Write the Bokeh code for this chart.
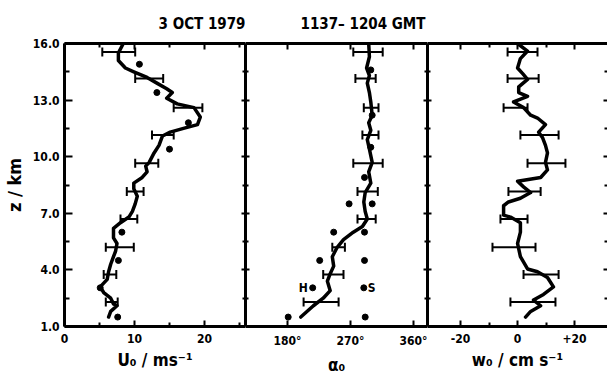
from bokeh.plotting import figure
from bokeh.models import (Range1d, LinearAxis, FixedTicker, Whisker, TeeHead,
                          ColumnDataSource, PrintfTickFormatter)
from bokeh.layouts import row
from bokeh.embed import file_html
from bokeh.resources import INLINE
from bokeh.core.properties import value

FONT = "'DejaVu Sans Condensed', 'DejaVu Sans', sans-serif"

# ---------------- data ----------------
title_date = "3 OCT 1979"
title_time = "1137\u2013 1204 GMT"

z_ticks = [1.0, 4.0, 7.0, 10.0, 13.0, 16.0]
z_minor = [2.5, 5.5, 8.5, 11.5, 14.5]

# Panel 1: horizontal wind speed U0 (m/s)
z_u = [16.0, 15.5, 15.1, 14.7, 14.5, 14.2, 13.9, 13.6, 13.4, 13.1, 12.8, 12.6, 12.1, 11.7, 11.5,
       11.3, 11.1, 10.6, 10.2, 9.7, 9.5, 9.2, 8.9, 8.6, 8.3, 7.9, 7.5, 7.1, 6.8, 6.5,
       6.2, 5.7, 5.4, 5.0, 4.7, 4.3, 3.9, 3.5, 3.1, 2.8, 2.5, 2.2, 2.1, 1.8, 1.5]
u = [8.4, 7.7, 7.7, 8.7, 9.9, 11.8, 13.2, 14.6, 15.4, 14.6, 16.1, 18.5, 19.4, 19.0, 17.0,
     15.1, 14.0, 13.5, 12.8, 12.1, 11.6, 11.8, 11.1, 9.9, 9.9, 10.4, 10.1, 9.7, 9.2, 8.0,
     7.0, 7.0, 7.5, 7.3, 7.0, 6.6, 6.3, 6.1, 5.1, 5.6, 6.6, 7.0, 7.5, 6.6, 6.3]

z_err = [15.55, 14.15, 12.6, 11.15, 9.65, 8.15, 6.7, 5.2, 3.75, 2.3]
u_lo = [5.4, 10.1, 15.6, 12.5, 10.1, 8.9, 8.0, 5.9, 5.6, 5.9]
u_hi = [10.1, 14.1, 19.7, 15.6, 13.4, 11.3, 10.4, 9.9, 7.4, 7.6]

z_dot_u = [14.9, 13.4, 11.8, 10.4, 6.0, 4.5, 3.05, 1.5]
u_dot = [10.7, 13.2, 17.7, 15.0, 8.2, 7.7, 5.1, 7.6]

u_ticks = [0, 10, 20]
u_minor = [5, 15, 25]

# Panel 2: wind direction alpha0 (deg)
z_a = [16.0, 15.3, 14.7, 14.3, 13.9, 13.4, 12.9, 12.2, 11.8, 11.4, 10.9, 10.4, 9.7, 9.2, 8.6,
       8.1, 7.6, 7.1, 6.7, 6.3, 6.0, 5.6, 5.2, 4.7, 4.2, 3.8, 3.4, 2.9, 2.5, 2.1, 1.5]
alpha = [296, 297, 293, 297, 294, 297, 299, 301, 296, 299, 294, 297, 301, 296, 299,
         291, 289, 291, 294, 287, 274, 260, 251, 244, 246, 241, 237, 241, 231, 217, 199]

a_lo = [274, 277, 289, 287, 274, 280, 280, 244, 231, 203]
a_hi = [316, 306, 310, 310, 316, 309, 306, 262, 260, 253]

z_dot_a = [14.6, 12.2, 10.5, 8.9]
a_dot = [299, 301, 299, 290]
z_dot_hs = [7.5, 6.0, 4.5, 3.05, 1.5]
h_alpha = [268, 246, 226, 216, 181]
s_alpha = [301, 290, 290, 289, 291]
hs_names = ["H", "S"]

a_ticks = [180, 270, 360]
a_labels = ["180\u00b0", "270\u00b0", "360\u00b0"]

# Panel 3: vertical velocity w0 (cm/s)
z_w = [16.0, 15.6, 15.2, 14.7, 14.4, 14.1, 13.7, 13.4, 13.2, 12.9, 12.6, 12.2, 12.05, 11.7, 11.3,
       11.0, 10.6, 10.2, 9.7, 9.3, 8.9, 8.7, 8.4, 8.1, 7.8, 7.6, 7.4, 6.9, 6.8, 6.5,
       6.0, 5.4, 4.7, 4.05, 3.9, 3.6, 3.1, 2.7, 2.4, 2.1, 1.8, 1.5]
w = [0, 3.5, 1, 0, 1.8, 3.5, 0.4, 0.4, 3.5, -1.4, 2.1, 4.6, 7, 9.8, 7.4,
     8.8, 9.8, 10.5, 9.8, 10.5, 8.1, 0, 2.1, 4.6, 1.0, -3.2, -4.9, -4.9, -2.5, 1,
     1, 0, 1, 3.5, 7, 10.5, 12.6, 9.1, 5.6, 8.1, 4.6, 2.8]

w_lo = [-3.5, -3.5, -4.9, 1.0, 3.5, -3.2, -6.0, -8.8, 2.1, -2.5]
w_hi = [7.0, 7.4, 3.5, 14.4, 16.8, 8.1, 3.5, 6.3, 14.4, 13.3]

w_ticks = [-20, 0, 20]
w_minor = [-10, 10]
w_labels = ["-20", "0", "+20"]

# ---------------- helpers ----------------
H = 377
TOP = 43
BOTTOM = 49


def style_axis(ax, labels, tick_in, minor_in, line=True):
    ax.axis_line_width = 3
    ax.axis_line_color = "black" if line else None
    ax.major_tick_line_width = 2
    ax.minor_tick_line_width = 2
    ax.major_tick_in = tick_in
    ax.major_tick_out = 0
    ax.minor_tick_in = minor_in
    ax.minor_tick_out = 0
    if labels:
        ax.major_label_text_font = FONT
        ax.major_label_text_font_style = "bold"
        ax.major_label_text_font_size = "12px"
        ax.major_label_text_color = "black"
        ax.major_label_standoff = 7
    else:
        ax.major_label_text_color = None
        ax.major_label_text_font_size = "0px"
        ax.major_label_standoff = 0


def make_fig(width, xr, left_border):
    p = figure(width=width, height=H, x_range=Range1d(*xr), y_range=Range1d(1.0, 16.0),
               x_axis_location=None, y_axis_location=None,
               toolbar_location=None, output_backend="svg",
               min_border_left=left_border, min_border_right=0,
               min_border_top=TOP, min_border_bottom=BOTTOM)
    p.outline_line_color = None
    p.grid.visible = False
    p.background_fill_color = "white"
    p.border_fill_color = "white"
    return p


def set_title(p, text, align, offset):
    p.title.text = text
    p.title.align = align
    p.title.offset = offset
    p.title.standoff = 22
    p.title.text_font = FONT
    p.title.text_font_style = "bold"
    p.title.text_font_size = "15px"
    p.title.text_color = "black"


def x_axes(p, ticks, minor, overrides, label):
    below = LinearAxis(ticker=FixedTicker(ticks=ticks, minor_ticks=minor))
    style_axis(below, True, 6, 4)
    if overrides:
        below.major_label_overrides = overrides
    below.axis_label = label
    below.axis_label_text_font = FONT
    below.axis_label_text_font_style = "bold"
    below.axis_label_text_font_size = "17px"
    below.axis_label_text_color = "black"
    below.axis_label_standoff = 4
    p.add_layout(below, "below")
    above = LinearAxis(ticker=FixedTicker(ticks=ticks, minor_ticks=minor))
    style_axis(above, False, 6, 4)
    p.add_layout(above, "above")


def y_side(p, side, line=True):
    ax = LinearAxis(ticker=FixedTicker(ticks=z_ticks, minor_ticks=z_minor))
    style_axis(ax, False, 4, 3, line)
    p.add_layout(ax, side)


def errbars(p, lo, hi):
    src = ColumnDataSource(dict(z=z_err, lo=lo, hi=hi))
    wk = Whisker(source=src, base="z", lower="lo", upper="hi", dimension="width",
                 line_width=2, line_color="black",
                 upper_head=TeeHead(size=9, line_width=2, line_color="black"),
                 lower_head=TeeHead(size=9, line_width=2, line_color="black"))
    p.add_layout(wk)


# ---------------- panel 1 ----------------
p1 = make_fig(245, (0, 25.86), 64)
set_title(p1, title_date, "right", 0)
left = LinearAxis(ticker=FixedTicker(ticks=z_ticks, minor_ticks=z_minor),
                  formatter=PrintfTickFormatter(format="%.1f"))
style_axis(left, True, 8, 5)
left.major_label_standoff = 5
left.axis_label = "z / km"
left.axis_label_text_font = FONT
left.axis_label_text_font_style = "bold"
left.axis_label_text_font_size = "18px"
left.axis_label_text_color = "black"
left.axis_label_standoff = 5
p1.add_layout(left, "left")
y_side(p1, "right")
x_axes(p1, u_ticks, u_minor, None, "U\u2080 / ms\u207b\u00b9")
p1.line(u, z_u, line_width=3.5, line_color="black", line_join="round", line_cap="round")
errbars(p1, u_lo, u_hi)
p1.scatter(u_dot, z_dot_u, size=6, color="black")

# ---------------- panel 2 ----------------
p2 = make_fig(182, (120, 380), 0)
set_title(p2, title_time, "left", 55)
y_side(p2, "left")
y_side(p2, "right")
x_axes(p2, a_ticks, [], dict(zip(a_ticks, a_labels)), "\u03b1\u2080")
p2.line(alpha, z_a, line_width=3.5, line_color="black", line_join="round", line_cap="round")
errbars(p2, a_lo, a_hi)
p2.scatter(a_dot, z_dot_a, size=6, color="black")
p2.scatter(h_alpha, z_dot_hs, size=6, color="black")
p2.scatter(s_alpha, z_dot_hs, size=6, color="black")
p2.text([h_alpha[3]], [z_dot_hs[3]], text=[hs_names[0]], x_offset=-5, text_align="right",
        text_baseline="middle", text_font=value(FONT), text_font_style="bold",
        text_font_size="12px", text_color="black")
p2.text([s_alpha[3]], [z_dot_hs[3]], text=[hs_names[1]], x_offset=4, text_align="left",
        text_baseline="middle", text_font=value(FONT), text_font_style="bold",
        text_font_size="12px", text_color="black")

# ---------------- panel 3 ----------------
p3 = make_fig(180, (-31.6, 31.56), 0)
y_side(p3, "left")
y_side(p3, "right", line=False)
x_axes(p3, w_ticks, w_minor, dict(zip(w_ticks, w_labels)), "w\u2080 / cm s\u207b\u00b9")
p3.line(w, z_w, line_width=3.5, line_color="black", line_join="round", line_cap="round")
errbars(p3, w_lo, w_hi)

layout = row(p1, p2, p3, spacing=0)
open("out.html", "w").write(file_html(layout, INLINE))
